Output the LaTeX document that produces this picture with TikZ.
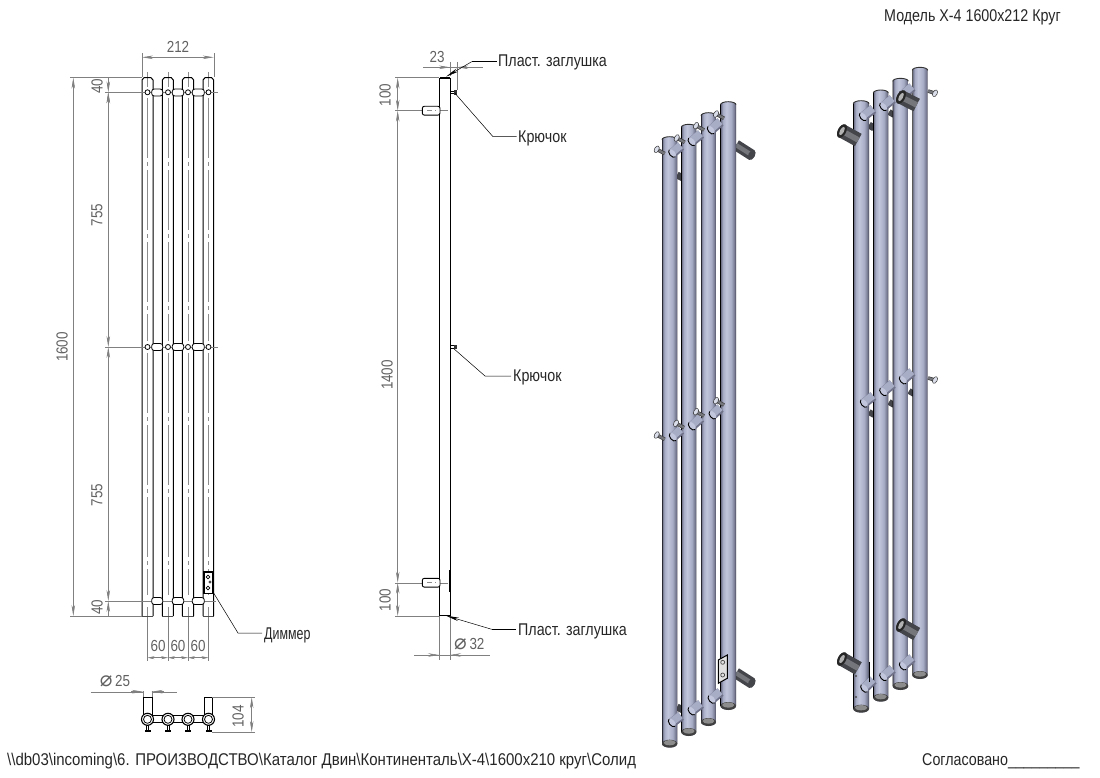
\documentclass[tikz,border=0pt]{standalone}
\usepackage{fontspec}
\setmainfont[FakeStretch=0.84]{Liberation Sans}
\newfontfamily\symfont{DejaVu Sans}
\usetikzlibrary{arrows.meta}
\definecolor{dimgrey}{HTML}{808080}
\definecolor{pipeedge}{HTML}{2A2A35}
\definecolor{pipedark}{HTML}{70738A}
\definecolor{pipelight}{HTML}{C2C6DC}
\definecolor{pipemid}{HTML}{A8ADC6}
\definecolor{mountdark}{HTML}{44454A}
\definecolor{mountlight}{HTML}{74767C}
\pgfdeclarehorizontalshading{pipeshade}{100bp}{
  color(0bp)=(pipeedge); color(25bp)=(pipeedge); color(26.5bp)=(pipedark);
  color(33bp)=(pipemid); color(44bp)=(pipelight); color(60bp)=(pipemid);
  color(71bp)=(pipedark); color(75bp)=(pipeedge); color(100bp)=(pipeedge)}
\tikzset{
  dimline/.style={draw=dimgrey, line width=0.5pt, {Stealth[length=11pt,width=3.5pt]}-{Stealth[length=11pt,width=3.5pt]}},
  dimout/.style={draw=dimgrey, line width=0.5pt, -{Stealth[length=11pt,width=3.5pt]}},
  extline/.style={draw=dimgrey, line width=0.4pt},
  axisline/.style={draw=black!45, line width=0.7pt, dash pattern=on 60pt off 4pt on 4pt off 4pt},
  dimtext/.style={text=black!62, font=\fontsize{16}{16}\selectfont, inner sep=0pt},
  calltext/.style={text=black!85, font=\fontsize{17}{17}\selectfont, inner sep=0pt, anchor=west},
  leader/.style={draw=black, line width=0.5pt},
  leadertip/.style={draw=black, line width=0.5pt, -{Stealth[length=13pt,width=3.5pt]}},
  partline/.style={draw=black, line width=1pt}
}
% x0, x1, top, bottom end of one tube
\newcommand{\radpipe}[4]{
  \pgfmathsetmacro{\rx}{(#2-#1)/2}
  \shade[shading=pipeshade] (#1,#4-4) -- (#1,#3+3) arc[start angle=180,end angle=0,x radius=\rx pt,y radius=3pt]
    -- (#2,#4-4) arc[start angle=0,end angle=-180,x radius=\rx pt,y radius=4pt] -- cycle;
  \draw[black!80, line width=0.9pt] (#1,#3+3) arc[start angle=180,end angle=0,x radius=\rx pt,y radius=3pt];
  \fill[black!75] ({(#1+#2)/2},#4-4) ellipse[x radius=\rx pt,y radius=4pt];
  \fill[black!45] ({(#1+#2)/2},#4-5) ellipse[x radius=\rx pt-1.6pt,y radius=2.6pt];
}
\newcommand{\radstub}[4]{
  \draw[line width=9.5pt, pipedark] (#1,#2) -- (#3,#4);
  \draw[line width=7.5pt, pipemid, shift={(-0.5pt,0.7pt)}] (#1,#2) -- (#3,#4);
  \fill[pipelight, shift={(#1,#2)}, rotate=40] (0,0) ellipse[x radius=2.8pt,y radius=4.7pt];
  \draw[black, line width=0.9pt, shift={(#1,#2)}, rotate=40] (0pt,4.7pt) arc[start angle=90,end angle=270,x radius=2.8pt,y radius=4.7pt];
}
\newcommand{\radbolt}[4]{
  \draw[line width=3.6pt, black!75] (#1,#2) -- (#3,#4);
  \draw[line width=2.2pt, mountlight] (#1,#2) -- (#3,#4);
  \draw[black!80, fill=pipelight!60!white, line width=0.5pt, shift={(#1,#2)}, rotate=-28] (0,0) ellipse[x radius=2.2pt,y radius=3.6pt];
}
\newcommand{\radmount}[5][11]{
  \draw[line width=#1pt, mountdark] (#2,#3) -- (#4,#5);
  \draw[line width=0.4*#1pt, mountlight] (#2,#3) -- (#4,#5);
  \fill[mountdark, shift={(#2,#3)}, rotate=-28] (0,0) ellipse[x radius=0.3*#1pt,y radius=0.5*#1pt];
}
\newcommand{\radmouth}[2]{
  \fill[black!85, shift={(#1,#2)}, rotate=-28] (0,0) ellipse[x radius=4pt,y radius=7.4pt];
  \fill[white!70!black, shift={(#1,#2)}, rotate=-28] (0,0) ellipse[x radius=2pt,y radius=4.6pt];
}

\begin{document}
\begin{tikzpicture}[x=1pt,y=-1pt]
\useasboundingbox (0,0) rectangle (1100,778);

% front view
\foreach \xc in {147.5,168,188,208.5}{
  \draw[axisline] (\xc,72) -- (\xc,87);
  \draw[axisline] (\xc,98) -- (\xc,341);
  \draw[axisline] (\xc,353) -- (\xc,595);
  \draw[axisline] (\xc,607) -- (\xc,621);
  \draw[extline] (\xc,616) -- (\xc,661);
}
\foreach \xa/\xb in {142/153,162.3/173.3,182.3/193.7,203/213.7}{
  \draw[partline] (\xa,616) -- (\xa,80) -- (\xa+2,77.7) -- (\xb-2,77.7) -- (\xb,80) -- (\xb,616);
  \draw[partline, black!70] (\xa,616) -- (\xb,616);
}
\draw[extline] (105,92.3) -- (218,92.3);
\draw[extline] (105,347) -- (218,347);
\draw[extline] (105,601) -- (216,601);
\foreach \xc in {147.5,168,188,208.5}{
  \draw[black, line width=0.8pt, fill=white] (\xc,92.3) circle (2.5pt);
  \draw[black, line width=0.8pt, fill=white] (\xc,347) circle (2.5pt);
}
\foreach \xa/\xb in {151.7/162.7,172.3/183.7,192.3/204.3}{
  \foreach \yc in {92.5,347,601}{
    \draw[black, line width=0.8pt, fill=white, rounded corners=2.5pt] (\xa,\yc-3.5) rectangle (\xb,\yc+3.5);
  }
}
\draw[black, line width=1.3pt, fill=white] (204,572) rectangle (213,593.3);
\draw[black, line width=0.7pt] (208,577) circle (1.9pt) (208,588) circle (1.9pt);
\fill[black!70] (210,582) circle (1.6pt);

\draw[extline] (142,77.7) -- (70,77.7);
\draw[extline] (142,616) -- (70,616);
\draw[extline] (142,77) -- (142,53);
\draw[extline] (213.7,77) -- (213.7,53);
\draw[dimline] (142,57.3) -- (213.7,57.3);
\node[dimtext] (width) at (178,47) {212};
\draw[dimline] (73.3,77.7) -- (73.3,616);
\node[dimtext, rotate=90] (height) at (62,347) {1600};
\draw[dimline] (108.3,92.3) -- (108.3,347);
\draw[dimline] (108.3,347) -- (108.3,601);
\draw[dimout] (108.3,78) -- (108.3,92.3);
\draw[dimout] (108.3,107) -- (108.3,92.3);
\draw[dimout] (108.3,616) -- (108.3,601);
\node[dimtext, rotate=90] (topgap) at (97,86) {40};
\node[dimtext, rotate=90] (upper) at (97,215) {755};
\node[dimtext, rotate=90] (lower) at (97,495) {755};
\node[dimtext, rotate=90] (botgap) at (97,607) {40};
\draw[dimline, {Stealth[length=7pt,width=3pt]}-{Stealth[length=7pt,width=3pt]}] (147.5,657.7) -- (168,657.7);
\draw[dimline, {Stealth[length=7pt,width=3pt]}-{Stealth[length=7pt,width=3pt]}] (168,657.7) -- (188,657.7);
\draw[dimline, {Stealth[length=7pt,width=3pt]}-{Stealth[length=7pt,width=3pt]}] (188,657.7) -- (208.5,657.7);
\node[dimtext] (pitcha) at (158,646) {60};
\node[dimtext] (pitchb) at (178,646) {60};
\node[dimtext] (pitchc) at (198,646) {60};

\coordinate (dimmer) at (213,592);
\coordinate (dimmerbend) at (238,633);
\node[calltext, xscale=0.87, transform shape] (dimmerlabel) at (264,635) {Диммер};
\draw[leader] (dimmer) -- (dimmerbend) -- (262,633);

% view from the end
\draw[partline, fill=white] (143,715) -- (143,697.3) -- (152.7,697.3) -- (152.7,715);
\draw[partline, fill=white] (204.3,715) -- (204.3,697.3) -- (212.7,697.3) -- (212.7,715);
\draw[partline, fill=white] (143,715.7) rectangle (212.7,722.3);
\foreach \xc in {147.5,168,188,208.5}{
  \draw[black, line width=1pt, fill=white] (\xc-1,725) rectangle (\xc+1,730);
  \fill[black] (\xc-3,730) rectangle (\xc+3,732);
  \draw[black, line width=1.1pt, fill=white] (\xc,719.3) circle (6pt);
  \draw[black, line width=0.8pt] (\xc,719.3) circle (4pt);
}
\draw[extline] (143,691) -- (143,697);
\draw[extline] (151.7,691) -- (151.7,697);
\draw[extline] (90.7,691.7) -- (143,691.7);
\draw[extline] (151.7,691.7) -- (176.7,691.7);
\draw[dimout] (131,691.7) -- (143,691.7);
\draw[dimout] (164,691.7) -- (151.7,691.7);
\node[dimtext] (bore) at (115,681) {{\symfont\fontsize{21}{21}\selectfont ⌀}\,25};
\draw[extline] (212,697.3) -- (255,697.3);
\draw[extline] (212,732) -- (255,732);
\draw[dimline] (251.7,697.3) -- (251.7,732);
\node[dimtext, rotate=90] (depth) at (238,716.7) {104};

% side view
\draw[partline] (439,616) -- (439,77.7);
\draw[partline] (450,616) -- (450,77.7);
\draw[black, line width=1.8pt] (439.5,77.7) -- (449.5,77.7);
\draw[black, line width=1.8pt] (439.5,615.5) -- (449.5,615.5);
\draw[black, line width=1.8pt] (450,570) -- (450,592);
\foreach \yc in {110.7,582.7}{
  \draw[extline] (395,\yc) -- (448,\yc);
  \draw[black, line width=0.9pt, fill=white, rounded corners=2pt] (422.3,\yc-4.4) rectangle (440,\yc+4.4);
  \draw[axisline, dash pattern=on 5pt off 3pt] (427,\yc) -- (436,\yc);
}
\foreach \yc in {92.3,347}{
  \draw[black, line width=0.7pt] (450,\yc-1.2) rectangle (454,\yc+1.2);
  \fill[black!80] (454,\yc-2.4) rectangle (456.5,\yc+2.4);
}
\draw[extline] (439,77.7) -- (395,77.7);
\draw[extline] (439,616) -- (395,616);
\draw[extline] (450,76) -- (450,62);
\draw[extline] (457.3,90) -- (457.3,62);
\draw[extline] (423,67.3) -- (482.7,67.3);
\draw[dimout] (438,67.3) -- (450,67.3);
\draw[dimout] (469,67.3) -- (457.3,67.3);
\node[dimtext] (clearance) at (437,57) {23};
\draw[dimline] (397.7,77.7) -- (397.7,110.7);
\draw[dimline] (397.7,110.7) -- (397.7,582.7);
\draw[dimline] (397.7,582.7) -- (397.7,616);
\node[dimtext, rotate=90] (hooktop) at (385,95) {100};
\node[dimtext, rotate=90] (hookspan) at (387,375) {1400};
\node[dimtext, rotate=90] (hookbot) at (385,600) {100};
\draw[extline] (439,616) -- (439,660);
\draw[extline] (450,616) -- (450,660);
\draw[extline] (414,655) -- (490,655);
\draw[dimout] (426,655) -- (439,655);
\draw[dimout] (463,655) -- (450,655);
\node[dimtext, anchor=west] (tube) at (454,644) {{\symfont\fontsize{21}{21}\selectfont ⌀}\,32};

\coordinate (captop) at (446,76.7);
\coordinate (captopbend) at (471.7,61.7);
\node[calltext] (captoplabel) at (498,62) {Пласт. заглушка};
\draw[leadertip] (captopbend) -- (captop);
\draw[leader] (captopbend) -- (496.7,61.7);
\coordinate (hookup) at (455,93.3);
\coordinate (hookupbend) at (493,136.7);
\node[calltext] (hookuplabel) at (518,138) {Крючок};
\draw[leader] (hookup) -- (hookupbend) -- (516.7,136.7);
\coordinate (hookmid) at (453,348);
\coordinate (hookmidbend) at (485,376);
\node[calltext] (hookmidlabel) at (513,377) {Крючок};
\draw[leader] (hookmid) -- (hookmidbend) -- (511,376);
\coordinate (capbot) at (446,615.7);
\coordinate (capbotbend) at (491.7,629.3);
\node[calltext] (capbotlabel) at (518,631) {Пласт. заглушка};
\draw[leadertip] (capbotbend) -- (capbot);
\draw[leader] (capbotbend) -- (516,629.3);

% first solid view
\radmount{751.7}{155}{736}{145}
\radmount{751.7}{683}{736}{673}
\draw[line width=7pt, mountdark] (677,175) -- (683,178);
\draw[line width=7pt, mountdark] (677,707) -- (683,710);
\radpipe{720.5}{736}{101.7}{710}
\radpipe{701}{716}{112.7}{726}
\radpipe{681.3}{696.3}{124.3}{736}
\radpipe{662}{677.3}{136.7}{747.7}
\foreach \xa/\ya/\xb/\yb in {672.3/153.3/681/146,691.7/141.7/701/134,711/130/720.5/122,
  673/437/681/430,692/426/701/418,712.7/415/720.5/408,
  672/722.7/681/716,691.7/711/701/704,711.7/699.3/720.5/692}{
  \radstub{\xa}{\ya}{\xb}{\yb}
}
\foreach \xa/\ya in {656.7/149.3,676.7/138,696/125.7,716/114,
  656.7/435,676/423.3,696/411.7,716/400.7}{
  \radbolt{\xa}{\ya}{\xa+8}{\ya+4.3}
}
\draw[black, line width=1pt, fill=black!12] (718.3,660) -- (727.3,655) -- (727.3,678.3) -- (718.3,683.3) -- cycle;
\draw[black!70, line width=0.7pt] (722.7,662.3) circle (2pt) (722.7,675) circle (2pt);

% second solid view
\draw[line width=7pt, mountdark] (869,125) -- (874,128);
\draw[line width=6pt, mountdark] (869,412) -- (874,415);
\draw[line width=6pt, mountdark] (889,402) -- (894,405);
\draw[line width=6pt, mountdark] (909,391) -- (914,394);
\draw[line width=6pt, mountdark] (889,112) -- (894,115);
\radbolt{935}{93.3}{928}{91}
\radbolt{935}{380}{928}{378}
\radpipe{912.3}{927.7}{67.3}{679}
\radpipe{892.7}{908.3}{78.3}{690}
\radpipe{873.3}{888.3}{90}{701.7}
\radpipe{853.3}{869}{100.7}{712.7}
\foreach \xa/\ya/\xb/\yb in {863/116.7/873.3/109,883.3/106.7/892.7/99,903/95/912.3/87,
  864/403.3/873.3/396,883.3/391.7/892.7/384,903/380/912.3/372,
  864.3/688.3/873.3/680,883.3/676.7/892.7/669,903/666/912.3/658}{
  \radstub{\xa}{\ya}{\xb}{\yb}
}
\foreach \xa/\ya/\xb/\yb in {842/131/858.3/140,901/97/916.7/105,
  842/659/858.3/668.3,901/625/916.7/634}{
  \radmount[14]{\xa}{\ya}{\xb}{\yb}
  \radmouth{\xa}{\ya}
}
\draw[black, line width=1.4pt] (869.3,661.7) -- (869.3,681.7);
\fill[black!70] (856,676) circle (1.2pt) (856,697) circle (1.2pt);

% headings
\node[calltext] (title) at (884,17) {Модель Х-4 1600х212 Круг};
\node[calltext, xscale=1.05, transform shape] (path) at (7,761) {\textbackslash\textbackslash db03\textbackslash incoming\textbackslash 6. ПРОИЗВОДСТВО\textbackslash Каталог Двин\textbackslash Континенталь\textbackslash Х-4\textbackslash 1600х210 круг\textbackslash Солид};
\node[calltext] (agreed) at (922,761) {Согласовано\_\_\_\_\_\_\_\_\_};
\end{tikzpicture}
\end{document}
